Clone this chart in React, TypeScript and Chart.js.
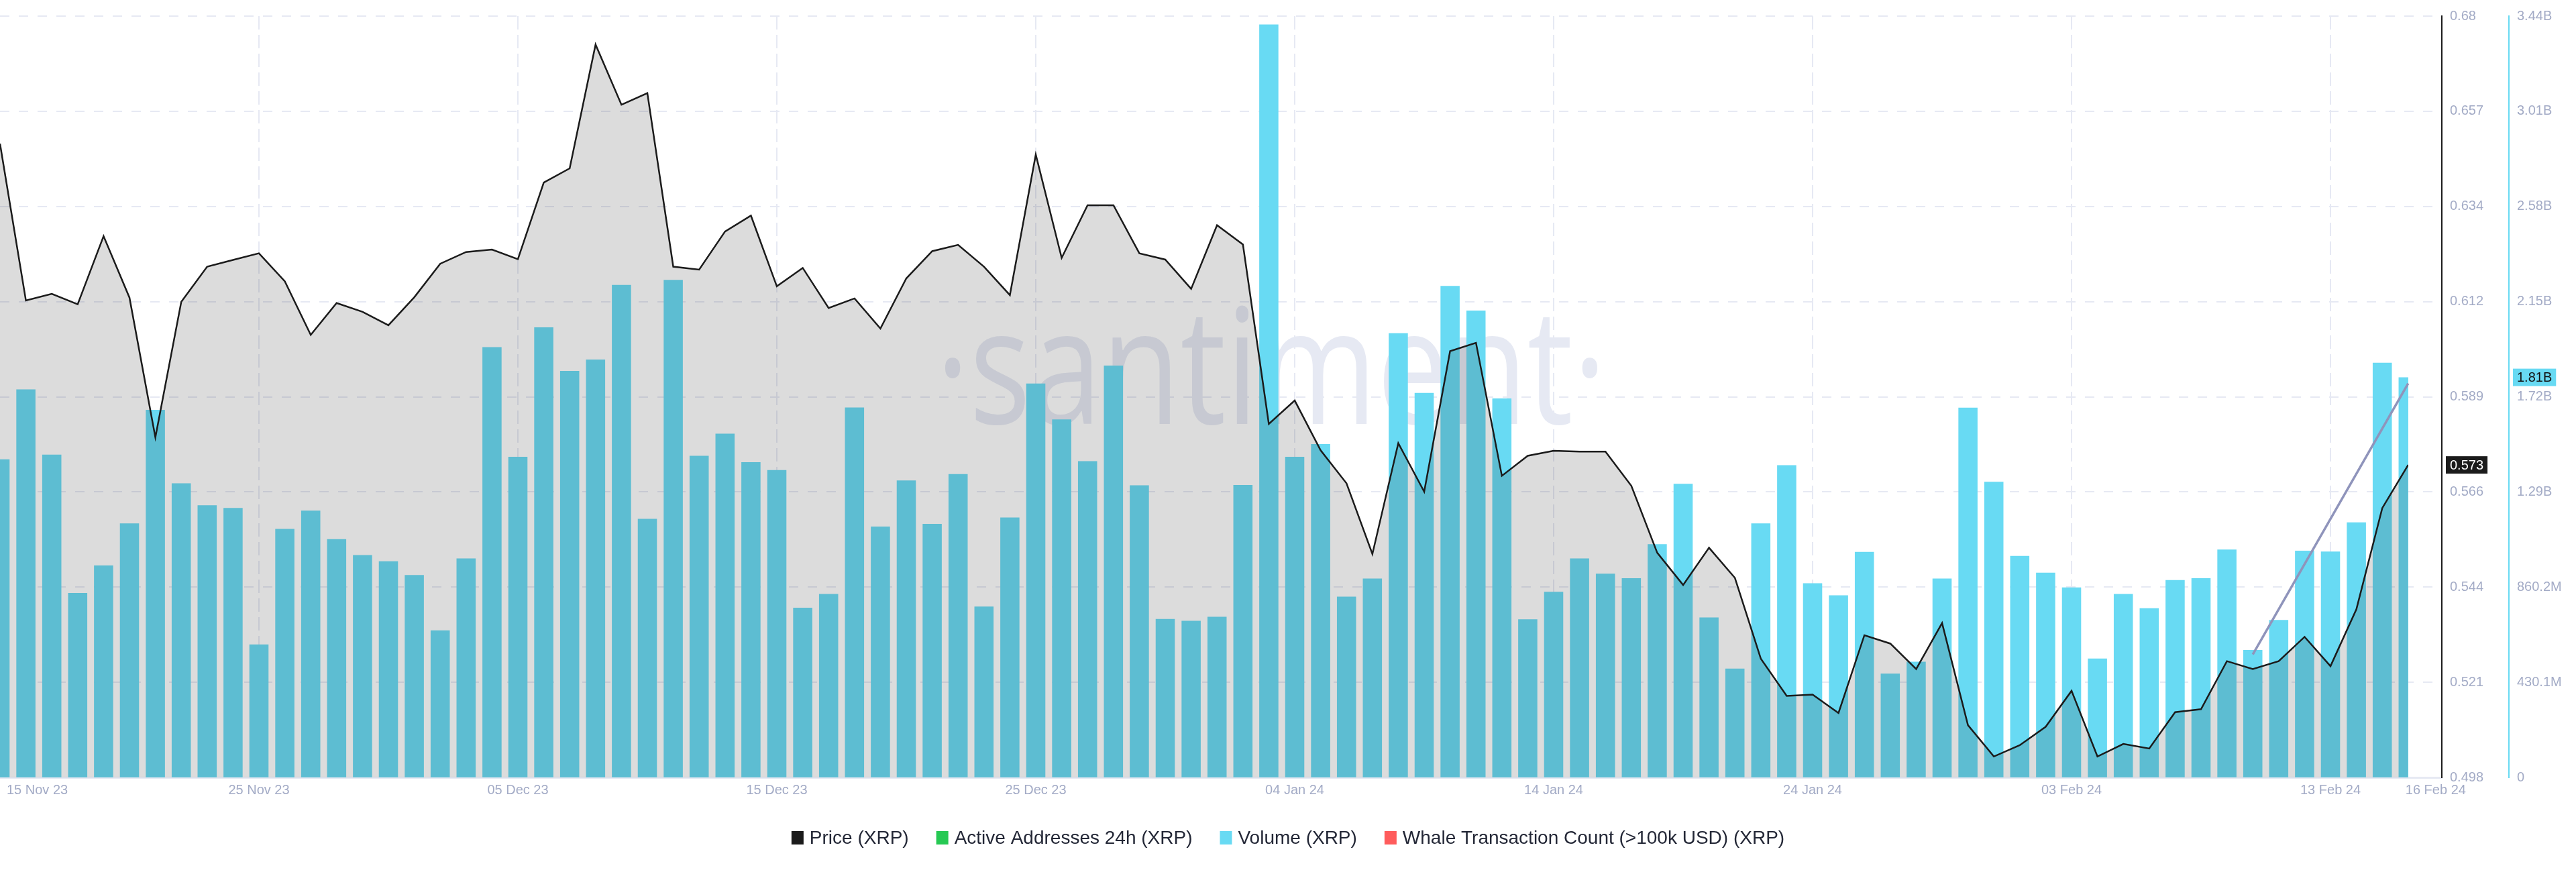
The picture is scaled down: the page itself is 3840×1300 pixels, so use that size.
import React, { useEffect, useRef } from "react";
import { Chart, registerables } from "chart.js";

Chart.register(...registerables);

// ---- data (day index 0 = 15 Nov 23 ... 93 = 16 Feb 24) ----
const price: number[] = [
  0.6495, 0.612, 0.6136, 0.6111, 0.6274, 0.6127, 0.5793, 0.6117, 0.6201, 0.6217,
  0.6233, 0.6166, 0.6038, 0.6114, 0.6093, 0.6061, 0.6128, 0.6208, 0.6236, 0.6242,
  0.6219, 0.6402, 0.6436, 0.6732, 0.6588, 0.6616, 0.6201, 0.6194, 0.6285, 0.6323,
  0.6154, 0.6198, 0.6102, 0.6125, 0.6053, 0.6173, 0.6238, 0.6253, 0.6201, 0.6133,
  0.6469, 0.6222, 0.6348, 0.6348, 0.6233, 0.6218, 0.6148, 0.63, 0.6254, 0.5825,
  0.5881, 0.5762, 0.5683, 0.5514, 0.5779, 0.5663, 0.5999, 0.6019, 0.5701, 0.5749,
  0.5761, 0.5759, 0.5759, 0.5677, 0.5517, 0.544, 0.5529, 0.5457, 0.5264, 0.5175,
  0.5178, 0.5134, 0.532, 0.53, 0.5239, 0.5349, 0.5105, 0.503, 0.5057, 0.5101,
  0.5187, 0.503, 0.506, 0.5049, 0.5136, 0.5143, 0.5258, 0.5239, 0.5258, 0.5316,
  0.5246, 0.5382, 0.5624, 0.5727,
];

// volume in millions of USD
const volumeM: number[] = [
  1438, 1754, 1459, 834, 958, 1148, 1661, 1329, 1230, 1218,
  601, 1123, 1206, 1077, 1005, 977, 915, 665, 990, 1945,
  1449, 2034, 1837, 1889, 2226, 1169, 2249, 1454, 1554, 1425,
  1389, 767, 829, 1672, 1134, 1342, 1146, 1371, 772, 1175,
  1780, 1618, 1429, 1861, 1320, 716, 708, 726, 1322, 3403,
  1449, 1507, 817, 899, 2008, 1738, 2221, 2110, 1713, 715,
  839, 990, 921, 900, 1054, 1327, 723, 492, 1148, 1411,
  878, 823, 1019, 469, 523, 899, 1671, 1336, 1001, 925,
  859, 537, 829, 765, 892, 900, 1030, 576, 712, 1025,
  1021, 1153, 1874, 1808,
];

// drawn trend line (price axis)
const trendX: number[] = [87, 93];
const trendY: number[] = [0.5274, 0.5922];

const xTickIndex: number[] = [0, 10, 20, 30, 40, 50, 60, 70, 80, 90, 93];
const xTickLabels: string[] = [
  "15 Nov 23", "25 Nov 23", "05 Dec 23", "15 Dec 23", "25 Dec 23", "04 Jan 24",
  "14 Jan 24", "24 Jan 24", "03 Feb 24", "13 Feb 24", "16 Feb 24",
];

const priceTickLabels: string[] = ["0.498", "0.521", "0.544", "0.566", "0.589", "0.612", "0.634", "0.657", "0.68"];
const volumeTickLabels: string[] = ["0", "430.1M", "860.2M", "1.29B", "1.72B", "2.15B", "2.58B", "3.01B", "3.44B"];
const priceMin = 0.498;
const priceMax = 0.68;
const volumeMax = 3440.8e6;

const legendLabels: string[] = ["Price (XRP)", "Active Addresses 24h (XRP)", "Volume (XRP)", "Whale Transaction Count (>100k USD) (XRP)"];
const legendColors: string[] = ["#1b1b1b", "#26c953", "#68daf3", "#ff5c5c"];

// ---- styles ----
const FONT = '"Liberation Sans", Arial, Helvetica, sans-serif';
const TICK_COLOR = "#a3abc6";
const GRID_COLOR = "#e6e9f3";
const CYAN = "#68daf3";
const BLACK = "#1b1b1b";

export default function App() {
  const ref = useRef<HTMLCanvasElement | null>(null);

  useEffect(() => {
    document.body.style.margin = "0";
    document.body.style.overflow = "hidden";
    const canvas = ref.current;
    if (!canvas) return;

    const last = price.length - 1;

    const watermark = {
      id: "watermark",
      beforeDatasetsDraw(chart: any) {
        const ctx = chart.ctx;
        ctx.save();
        ctx.font = '400 240px "Open Sans", "DejaVu Sans", sans-serif';
        ctx.fillStyle = "#e6e9f3";
        const text = "\u00B7santiment\u00B7";
        const w = ctx.measureText(text).width;
        ctx.translate(1895, 632);
        ctx.scale(1000 / w, 1);
        ctx.textAlign = "center";
        ctx.textBaseline = "alphabetic";
        ctx.fillText(text, 0, 0);
        ctx.restore();
      },
    };

    const overlay = {
      id: "overlay",
      afterDraw(chart: any) {
        const ctx = chart.ctx;
        const area = chart.chartArea;
        const xs = chart.scales.x;
        ctx.save();
        // x labels
        ctx.font = `20px ${FONT}`;
        ctx.fillStyle = TICK_COLOR;
        ctx.textBaseline = "middle";
        const ly = area.bottom + 19;
        xTickIndex.forEach((v, i) => {
          const px = xs.getPixelForValue(v);
          if (i === 0) {
            ctx.textAlign = "left";
            ctx.fillText(xTickLabels[i], px + 10, ly);
          } else if (i === xTickIndex.length - 1) {
            ctx.textAlign = "left";
            ctx.fillText(xTickLabels[i], px - 4, ly);
          } else {
            ctx.textAlign = "center";
            ctx.fillText(xTickLabels[i], px, ly);
          }
        });

        // current value badges
        const ps = chart.scales.price;
        const vs = chart.scales.volume;
        const drawBadge = (scale: any, value: number, text: string, bg: string, fg: string) => {
          const y = scale.getPixelForValue(value);
          ctx.font = `20px ${FONT}`;
          const tw = ctx.measureText(text).width;
          ctx.fillStyle = bg;
          ctx.fillRect(scale.left + 6, y - 13, tw + 12, 26);
          ctx.fillStyle = fg;
          ctx.textAlign = "left";
          ctx.textBaseline = "middle";
          ctx.fillText(text, scale.left + 12, y + 1);
        };
        drawBadge(ps, price[last], price[last].toFixed(3), BLACK, "#ffffff");
        drawBadge(vs, volumeM[last] * 1e6, (volumeM[last] / 1000).toFixed(2) + "B", CYAN, "#111111");

        // legend
        ctx.font = `28px ${FONT}`;
        const boxW = 18, boxH = 20, gap = 9, itemGap = 41;
        const widths = legendLabels.map((t) => boxW + gap + ctx.measureText(t).width);
        const total = widths.reduce((a, b) => a + b, 0) + itemGap * (widths.length - 1);
        let x = (chart.width - total) / 2;
        const cy = area.bottom + 90;
        legendLabels.forEach((t, i) => {
          ctx.fillStyle = legendColors[i];
          ctx.fillRect(x, cy - boxH / 2, boxW, boxH);
          ctx.fillStyle = "#232736";
          ctx.textAlign = "left";
          ctx.textBaseline = "middle";
          ctx.fillText(t, x + boxW + gap, cy + 1);
          x += widths[i] + itemGap;
        });
        ctx.restore();
      },
    };

    const clip = { left: 0, top: false as any, right: -50, bottom: 0 };

    const chart = new Chart(canvas, {
      type: "bar",
      data: {
        datasets: [
          {
            type: "line",
            label: "Trend",
            data: trendX.map((x, i) => ({ x, y: trendY[i] })),
            yAxisID: "price",
            xAxisID: "x",
            borderColor: "#8f94bb",
            borderWidth: 3.5,
            pointRadius: 0,
            fill: false,
            order: 0,
          } as any,
          {
            type: "line",
            label: "Price (XRP)",
            data: price.map((y, x) => ({ x, y })),
            yAxisID: "price",
            xAxisID: "x",
            borderColor: BLACK,
            borderWidth: 2.5,
            backgroundColor: "rgba(40,40,40,0.16)",
            fill: "start",
            pointRadius: 0,
            tension: 0,
            order: 1,
            clip,
          } as any,
          {
            type: "bar",
            label: "Volume (XRP)",
            data: volumeM.map((v, x) => ({ x, y: v * 1e6 })),
            yAxisID: "volume",
            xAxisID: "x",
            backgroundColor: CYAN,
            borderWidth: 0,
            barPercentage: 0.74,
            categoryPercentage: 1,
            order: 2,
            clip,
          } as any,
        ],
      },
      options: {
        animation: false,
        responsive: false,
        maintainAspectRatio: false,
        devicePixelRatio: 1,
        events: [],
        layout: { padding: { top: 13, bottom: 141, left: 0, right: 0 } },
        plugins: { legend: { display: false }, tooltip: { enabled: false } },
        scales: {
          x: {
            type: "linear",
            axis: "x",
            position: "bottom",
            min: 0,
            max: 94.3,
            offset: false,
            afterBuildTicks: (s: any) => {
              s.ticks = xTickIndex.filter((v) => v > 0 && v < last).map((v) => ({ value: v }));
            },
            ticks: { display: false },
            grid: { offset: false, color: GRID_COLOR, lineWidth: 2, drawTicks: false },
            border: { display: true, color: GRID_COLOR, width: 3, dash: [20, 8] },
          },
          price: {
            type: "linear",
            axis: "y",
            position: "right",
            min: priceMin,
            max: priceMax,
            afterBuildTicks: (s: any) => {
              s.ticks = priceTickLabels.map((_, k) => ({ value: priceMin + (k * (priceMax - priceMin)) / 8 }));
            },
            afterFit: (s: any) => {
              s.width = 100;
            },
            ticks: {
              callback: (_v: any, i: number) => priceTickLabels[i],
              padding: 12,
              color: TICK_COLOR,
              font: { family: FONT, size: 20 },
              autoSkip: false,
            },
            grid: { color: GRID_COLOR, lineWidth: 2, drawTicks: false },
            border: { display: true, color: BLACK, width: 2, dash: [14, 14] },
          },
          volume: {
            type: "linear",
            axis: "y",
            position: "right",
            min: 0,
            max: volumeMax,
            afterBuildTicks: (s: any) => {
              s.ticks = volumeTickLabels.map((_, k) => ({ value: (k * volumeMax) / 8 }));
            },
            afterFit: (s: any) => {
              s.width = 100;
            },
            ticks: {
              callback: (_v: any, i: number) => volumeTickLabels[i],
              padding: 12,
              color: TICK_COLOR,
              font: { family: FONT, size: 20 },
              autoSkip: false,
            },
            grid: { display: false, drawOnChartArea: false, drawTicks: false },
            border: { display: true, color: CYAN, width: 2 },
          },
        } as any,
      },
      plugins: [watermark, overlay],
    });

    return () => {
      chart.destroy();
    };
  }, []);

  return (
    <div style={{ width: 3840, height: 1300, position: "relative", background: "#ffffff" }}>
      <canvas ref={ref} width={3840} height={1300} style={{ display: "block" }} />
    </div>
  );
}
